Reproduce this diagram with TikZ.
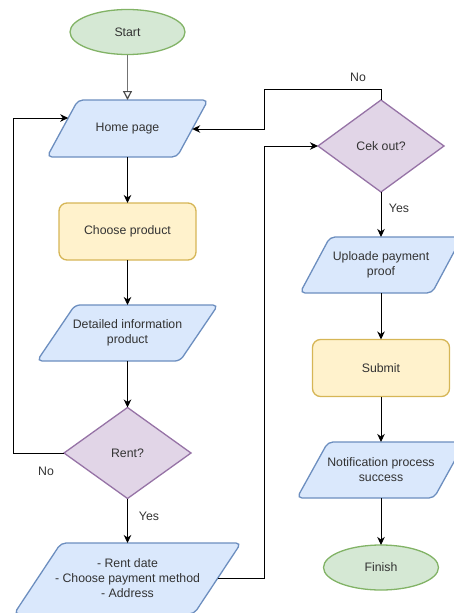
\documentclass[tikz,border=0pt]{standalone}
\usepackage{fontspec}
\setmainfont{Liberation Sans}
\usetikzlibrary{shapes.geometric,arrows.meta,calc,backgrounds}
\definecolor{gfill}{HTML}{D5E8D4}\definecolor{gline}{HTML}{82B366}
\definecolor{bfill}{HTML}{DAE8FC}\definecolor{bline}{HTML}{6C8EBF}
\definecolor{yfill}{HTML}{FFF2CC}\definecolor{yline}{HTML}{D6B656}
\definecolor{pfill}{HTML}{E1D5E7}\definecolor{pline}{HTML}{9673A6}
\definecolor{txt}{HTML}{333333}
\tikzset{
  base/.style={font=\fontsize{12.3}{15}\selectfont, text=txt, align=center, inner sep=0pt, outer sep=0pt, line width=1.3pt},
  terminal/.style={base, ellipse, draw=gline, fill=gfill, minimum width=115pt, minimum height=45pt},
  process/.style={base, rectangle, rounded corners=8pt, draw=yline, fill=yfill, minimum width=137pt, minimum height=57pt},
  decision/.style={base, diamond, draw=pline, fill=pfill},
  io/.style={base, rectangle},
  ioshape/.style={line width=1.3pt, rounded corners=5pt, draw=bline, fill=bfill},
  lbl/.style={font=\fontsize{12.3}{15}\selectfont, text=txt, inner sep=0pt},
  arr/.style={line width=0.9pt, -{Stealth[length=8pt,width=7.5pt,inset=2.5pt]}},
  openarr/.style={line width=1.2pt, draw=black!55, -{Triangle[open,length=9pt,width=9pt,fill=white,color=black!70]}}
}
\newcommand{\iopoly}[2]{%
  \begin{scope}[on background layer]
    \draw[ioshape] ($(#1.north west)+(#2,0)$) -- (#1.north east) -- ($(#1.south east)-(#2,0)$) -- (#1.south west) -- cycle;
  \end{scope}}
\begin{document}
\begin{tikzpicture}[x=1pt,y=-1pt]
\useasboundingbox (0,0) rectangle (453,613);
\clip (0,0) rectangle (453,613);
% left column
\node[terminal] (start) at (127.5,32) {Start};
\node[io, minimum width=161pt, minimum height=57pt] (home) at (127.5,128.5) {Home page};
\iopoly{home}{31}
\node[process] (choose) at (127.5,231.5) {Choose product};
\node[io, minimum width=181pt, minimum height=56pt] (detail) at (127.5,333) {Detailed information\\product};
\iopoly{detail}{38}
\node[decision, minimum width=127pt, minimum height=91pt] (rent) at (127.5,453) {Rent?};
\node[io, minimum width=227pt, minimum height=71pt] (params) at (127.5,578.5) {- Rent date\\- Choose payment method\\- Address};
\iopoly{params}{47}
% right column
\node[decision, minimum width=126pt, minimum height=92pt] (cek) at (381,146) {Cek out?};
\node[io, minimum width=162pt, minimum height=56pt] (upload) at (381,265) {Uploade payment\\proof};
\iopoly{upload}{30}
\node[process] (submit) at (381,368) {Submit};
\node[io, minimum width=168pt, minimum height=56pt] (notif) at (381,470) {Notification process\\success};
\iopoly{notif}{31}
\node[terminal] (finish) at (381,567.5) {Finish};
% helper coordinates
\coordinate (homeL) at (68.2,118);
\coordinate (homeR) at (192.2,129);
\coordinate (loopL) at (13,118);
\coordinate (topY) at (264,89);
\coordinate (paramsR) at (217.8,578);
\coordinate (midX) at (264,578);
% connectors
\draw[openarr] (start) -- (home);
\draw[arr] (home) -- (choose);
\draw[arr] (choose) -- (detail);
\draw[arr] (detail) -- (rent);
\draw[arr] (rent) -- (params);
\draw[arr] (rent.west) -- (rent.west -| loopL) |- (homeL);
\draw[arr] (cek.north) |- (topY) |- (homeR);
\draw[arr] (paramsR) -- (midX) |- (cek.west);
\draw[arr] (cek) -- (upload);
\draw[arr] (upload) -- (submit);
\draw[arr] (submit) -- (notif);
\draw[arr] (notif) -- (finish);
% labels
\node[lbl] (no1) at (46,471) {No};
\node[lbl] (yes1) at (149,516) {Yes};
\node[lbl] (no2) at (358,77) {No};
\node[lbl] (yes2) at (399,208) {Yes};
\end{tikzpicture}
\end{document}
